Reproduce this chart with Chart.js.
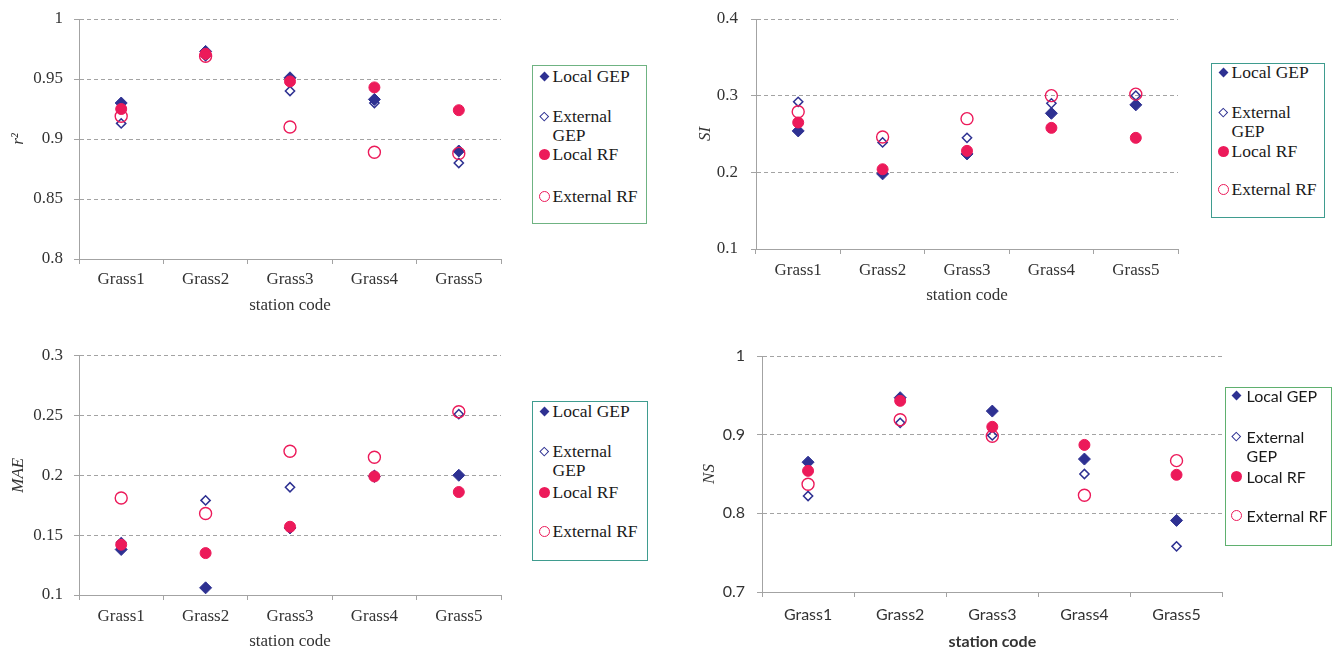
<!DOCTYPE html>
<html><head><meta charset="utf-8">
<script src="https://cdn.jsdelivr.net/npm/chart.js@4.4.1/dist/chart.umd.min.js"></script>
<style>
html,body{margin:0;padding:0;background:#fff;width:1333px;height:651px;overflow:hidden;position:relative}
canvas{position:absolute}
.legend{position:absolute;border:1.5px solid #5fae78;box-sizing:border-box;background:#fff}
.mk{position:absolute;box-sizing:border-box}
.txt{position:absolute;line-height:19px;color:#1a1a1a;white-space:normal}
</style></head><body>
<script>
// ---- data ----
const stations = ['Grass1', 'Grass2', 'Grass3', 'Grass4', 'Grass5'];
const seriesNames = ['Local GEP', 'External GEP', 'Local RF', 'External RF'];

const r2LocalGEP    = [0.930, 0.973, 0.951, 0.933, 0.890];
const r2ExternalGEP = [0.913, 0.969, 0.940, 0.930, 0.880];
const r2LocalRF     = [0.925, 0.971, 0.948, 0.943, 0.924];
const r2ExternalRF  = [0.919, 0.969, 0.910, 0.889, 0.888];

const siLocalGEP    = [0.254, 0.198, 0.224, 0.277, 0.288];
const siExternalGEP = [0.292, 0.239, 0.245, 0.290, 0.300];
const siLocalRF     = [0.265, 0.204, 0.228, 0.258, 0.245];
const siExternalRF  = [0.279, 0.246, 0.270, 0.300, 0.302];

const maeLocalGEP    = [0.138, 0.106, 0.156, 0.199, 0.200];
const maeExternalGEP = [0.144, 0.179, 0.190, 0.200, 0.251];
const maeLocalRF     = [0.142, 0.135, 0.157, 0.199, 0.186];
const maeExternalRF  = [0.181, 0.168, 0.220, 0.215, 0.253];

const nsLocalGEP    = [0.865, 0.947, 0.930, 0.869, 0.791];
const nsExternalGEP = [0.822, 0.915, 0.899, 0.850, 0.758];
const nsLocalRF     = [0.854, 0.943, 0.910, 0.887, 0.849];
const nsExternalRF  = [0.837, 0.919, 0.898, 0.823, 0.867];

const r2Ticks  = [0.8, 0.85, 0.9, 0.95, 1];
const siTicks  = [0.1, 0.2, 0.3, 0.4];
const maeTicks = [0.1, 0.15, 0.2, 0.25, 0.3];
const nsTicks  = [0.7, 0.8, 0.9, 1];

// ---- styles ----
const NAVY = '#2e3192', PINK = '#ec1a5a', GRID = '#a3a3a3', TXT = '#333';
const markerStyles = [
  {pointStyle: 'rectRot', radius: 6,   bg: NAVY, bc: NAVY, bw: 1,   order: 4},
  {pointStyle: 'rectRot', radius: 4.6, bg: 'rgba(255,255,255,0)', bc: NAVY, bw: 1.5, order: 3},
  {pointStyle: 'circle',  radius: 5.5, bg: PINK, bc: PINK, bw: 1,   order: 2},
  {pointStyle: 'circle',  radius: 6,   bg: 'rgba(255,255,255,0)', bc: PINK, bw: 1.4, order: 1}
];

function fmt(v) { return String(+Number(v).toFixed(2)); }

function makePanel(p) {
  const cv = document.createElement('canvas');
  cv.width = p.w; cv.height = p.h;
  cv.style.left = p.x + 'px'; cv.style.top = p.y + 'px';
  cv.style.width = p.w + 'px'; cv.style.height = p.h + 'px';
  document.body.appendChild(cv);
  const a = p.area;
  const tickLh = p.tickFont.size * 1.2;
  const xtLh = p.xTitleFont.size * 1.2;
  const ytLh = p.yTitleFont.size * 1.2;
  const xTitleBottom = p.xTitleY + xtLh / 2;
  const pad = {top: a.t - p.y, left: 0, right: (p.x + p.w) - a.r, bottom: (p.y + p.h) - xTitleBottom};
  const yWidth = a.l - p.x;
  const xHeight = xTitleBottom - a.b;
  const xTickPad = p.xLabelY - a.b - 5 - tickLh / 2;
  const yTickPad = a.l - 5 - p.yLabelRight;
  const yTitlePad = p.yTitleX - p.x - ytLh / 2;
  const ticks = p.ticks;

  new Chart(cv, {
    type: 'line',
    data: {
      labels: stations,
      datasets: p.series.map((d, i) => {
        const s = markerStyles[i];
        return {
          label: seriesNames[i], data: d, showLine: false, order: s.order,
          pointStyle: s.pointStyle, pointRadius: s.radius, pointHoverRadius: s.radius,
          pointBackgroundColor: s.bg, pointBorderColor: s.bc, pointBorderWidth: s.bw,
          backgroundColor: s.bg, borderColor: s.bc
        };
      })
    },
    options: {
      responsive: false, animation: false, events: [],
      layout: {padding: pad},
      plugins: {legend: {display: false}, tooltip: {enabled: false}},
      scales: {
        x: {
          type: 'category', offset: true,
          grid: {offset: true, drawOnChartArea: false, drawTicks: true, tickLength: 5, color: GRID, lineWidth: 1, tickBorderDash: []},
          border: {color: GRID, width: 1},
          ticks: {font: Object.assign({lineHeight: 1.2}, p.tickFont), color: TXT, padding: xTickPad, maxRotation: 0, autoSkip: false},
          title: {display: true, text: 'station code', font: Object.assign({lineHeight: 1.2}, p.xTitleFont), color: TXT, padding: 0},
          afterFit: s => { s.height = xHeight; s.paddingLeft = 0; s.paddingRight = 0; s.paddingTop = 0; s.paddingBottom = 0; }
        },
        y: {
          min: ticks[0], max: ticks[ticks.length - 1],
          afterBuildTicks: s => { s.ticks = ticks.map(v => ({value: v})); },
          grid: {color: GRID, lineWidth: 1, tickLength: 5, tickBorderDash: [], drawTicks: true},
          border: {color: GRID, width: 1, dash: [4, 3]},
          ticks: {font: Object.assign({lineHeight: 1.2}, p.tickFont), color: TXT, padding: yTickPad, callback: v => fmt(v)},
          title: {display: true, text: p.yTitle, font: Object.assign({lineHeight: 1.2}, p.yTitleFont), color: TXT, padding: {top: yTitlePad, bottom: 0}},
          afterFit: s => { s.width = yWidth; s.paddingTop = 0; s.paddingBottom = 0; s.paddingLeft = 0; s.paddingRight = 0; }
        }
      }
    }
  });
}

function makeLegend(L) {
  const box = document.createElement('div');
  box.className = 'legend';
  box.style.left = L.x + 'px'; box.style.top = L.y + 'px';
  box.style.width = L.w + 'px'; box.style.height = L.h + 'px';
  box.style.borderColor = L.border;
  document.body.appendChild(box);
  seriesNames.forEach((name, i) => {
    const cy = L.centers[i] - 1.5; // inside border
    const mk = document.createElement('span');
    mk.className = 'mk';
    let sz;
    if (i === 0) { sz = 7; mk.style.background = NAVY; mk.style.transform = 'rotate(45deg)'; }
    if (i === 1) { sz = 6.5; mk.style.border = '1.5px solid ' + NAVY; mk.style.transform = 'rotate(45deg)'; }
    if (i === 2) { sz = 11; mk.style.background = PINK; mk.style.borderRadius = '50%'; }
    if (i === 3) { sz = 11; mk.style.border = '1.4px solid ' + PINK; mk.style.borderRadius = '50%'; }
    mk.style.width = sz + 'px'; mk.style.height = sz + 'px';
    mk.style.left = (L.mx - 1.5 - sz / 2) + 'px'; mk.style.top = (cy - sz / 2) + 'px';
    box.appendChild(mk);
    const t = document.createElement('div');
    t.className = 'txt';
    t.textContent = name;
    t.style.font = L.font; t.style.lineHeight = '19px';
    t.style.left = (L.tx - 1.5) + 'px'; t.style.top = (cy - 9.5) + 'px';
    t.style.width = L.tw + 'px';
    box.appendChild(t);
  });
}

const serif = {family: '"Liberation Serif", "Times New Roman", serif', size: 17};
const serifIt = {family: '"Liberation Serif", "Times New Roman", serif', size: 17, style: 'italic'};
const sans = {family: 'Lato, "Open Sans", sans-serif', size: 16};
const sansBold = {family: 'Lato, "Open Sans", sans-serif', size: 16, weight: 'bold'};

makePanel({x: 0, y: 0, w: 520, h: 325, area: {l: 79, t: 19, r: 501, b: 259},
  yLabelRight: 63, xLabelY: 280, xTitleY: 306, yTitleX: 19,
  tickFont: serif, xTitleFont: serif, yTitleFont: serifIt, yTitle: 'r\u00B2', ticks: r2Ticks,
  series: [r2LocalGEP, r2ExternalGEP, r2LocalRF, r2ExternalRF]});

makePanel({x: 670, y: 0, w: 530, h: 320, area: {l: 756, t: 19, r: 1178, b: 249},
  yLabelRight: 738, xLabelY: 271, xTitleY: 296, yTitleX: 706,
  tickFont: serif, xTitleFont: serif, yTitleFont: serifIt, yTitle: 'SI', ticks: siTicks,
  series: [siLocalGEP, siExternalGEP, siLocalRF, siExternalRF]});

makePanel({x: 0, y: 330, w: 520, h: 330, area: {l: 79, t: 355.5, r: 501, b: 595},
  yLabelRight: 63, xLabelY: 616.5, xTitleY: 642, yTitleX: 19,
  tickFont: serif, xTitleFont: serif, yTitleFont: serifIt, yTitle: 'MAE', ticks: maeTicks,
  series: [maeLocalGEP, maeExternalGEP, maeLocalRF, maeExternalRF]});

makePanel({x: 670, y: 330, w: 560, h: 330, area: {l: 762, t: 356, r: 1223, b: 592},
  yLabelRight: 745, xLabelY: 615, xTitleY: 641.5, yTitleX: 710,
  tickFont: sans, xTitleFont: sansBold, yTitleFont: serifIt, yTitle: 'NS', ticks: nsTicks,
  series: [nsLocalGEP, nsExternalGEP, nsLocalRF, nsExternalRF]});

const serifLegend = '17.5px "Liberation Serif", "Times New Roman", serif';
makeLegend({x: 532, y: 65, w: 115, h: 159, centers: [12, 52, 90, 132], mx: 13, tx: 21, tw: 90, font: serifLegend, border: '#6fb382'});
makeLegend({x: 1211, y: 63, w: 114, h: 155, centers: [10, 50, 88.5, 127], mx: 13, tx: 21, tw: 90, font: serifLegend, border: '#3f9c8f'});
makeLegend({x: 532, y: 401, w: 116, h: 160, centers: [11, 51, 92, 131], mx: 13, tx: 21, tw: 90, font: serifLegend, border: '#3f9c8f'});
makeLegend({x: 1225, y: 387, w: 107, h: 159, centers: [9, 50, 90, 129], mx: 12, tx: 22, tw: 84, font: '16px Lato, "Open Sans", sans-serif', border: '#5fb06f'});
</script>
</body></html>
